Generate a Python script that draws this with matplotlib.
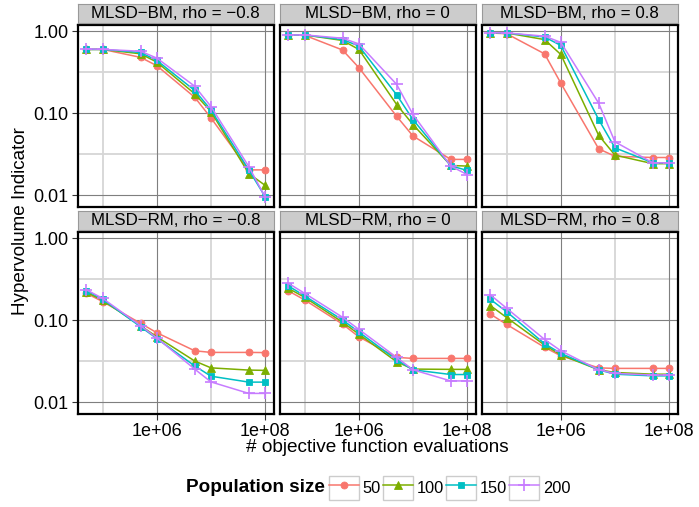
import numpy as np
import matplotlib
matplotlib.use('Agg')
import matplotlib.pyplot as plt
from matplotlib.legend_handler import HandlerLine2D
from matplotlib.patches import Rectangle
from matplotlib.lines import Line2D

plt.rcParams['font.family'] = ['Liberation Sans', 'DejaVu Sans']

evals = [5e4, 1e5, 5e5, 1e6, 5e6, 1e7, 5e7, 1e8]
pop_sizes = ['50', '100', '150', '200']

# rows: pop size 50, 100, 150, 200
bm_neg = [[0.60, 0.60, 0.48, 0.38, 0.157, 0.088, 0.0205, 0.0205],
          [0.60, 0.60, 0.53, 0.42, 0.173, 0.105, 0.0185, 0.0133],
          [0.60, 0.60, 0.55, 0.44, 0.190, 0.110, 0.0205, 0.0097],
          [0.61, 0.60, 0.57, 0.47, 0.214, 0.121, 0.0225, 0.0096]]
bm_zero = [[0.90, 0.89, 0.59, 0.36, 0.092, 0.053, 0.0275, 0.0275],
           [0.90, 0.90, 0.77, 0.60, 0.128, 0.073, 0.0232, 0.0228],
           [0.90, 0.90, 0.79, 0.66, 0.168, 0.084, 0.0230, 0.0202],
           [0.90, 0.90, 0.82, 0.70, 0.225, 0.097, 0.0228, 0.0180]]
bm_pos = [[0.95, 0.93, 0.53, 0.233, 0.037, 0.030, 0.029, 0.029],
          [0.96, 0.95, 0.79, 0.52, 0.054, 0.031, 0.0244, 0.0244],
          [0.96, 0.95, 0.85, 0.67, 0.084, 0.038, 0.025, 0.025],
          [0.96, 0.95, 0.87, 0.73, 0.133, 0.045, 0.025, 0.025]]
rm_neg = [[0.213, 0.169, 0.092, 0.0706, 0.0426, 0.0407, 0.0407, 0.0405],
          [0.220, 0.175, 0.086, 0.063, 0.032, 0.0264, 0.0248, 0.0246],
          [0.230, 0.180, 0.0835, 0.060, 0.0279, 0.0209, 0.0177, 0.0177],
          [0.235, 0.185, 0.086, 0.061, 0.0255, 0.0178, 0.0129, 0.0129]]
rm_zero = [[0.228, 0.177, 0.090, 0.063, 0.0354, 0.0344, 0.0344, 0.0344],
           [0.245, 0.190, 0.095, 0.068, 0.0313, 0.0255, 0.0253, 0.0253],
           [0.262, 0.198, 0.101, 0.072, 0.033, 0.025, 0.0219, 0.0219],
           [0.282, 0.213, 0.109, 0.0776, 0.0354, 0.025, 0.0183, 0.0183]]
rm_pos = [[0.119, 0.089, 0.047, 0.037, 0.0264, 0.026, 0.026, 0.026],
          [0.151, 0.108, 0.050, 0.038, 0.025, 0.0232, 0.0221, 0.0221],
          [0.180, 0.127, 0.052, 0.0396, 0.025, 0.0221, 0.0211, 0.0211],
          [0.204, 0.140, 0.0586, 0.0426, 0.025, 0.0226, 0.0216, 0.0216]]

panels = [bm_neg, bm_zero, bm_pos, rm_neg, rm_zero, rm_pos]
titles = ['MLSD\u2212BM, rho = \u22120.8', 'MLSD\u2212BM, rho = 0', 'MLSD\u2212BM, rho = 0.8',
          'MLSD\u2212RM, rho = \u22120.8', 'MLSD\u2212RM, rho = 0', 'MLSD\u2212RM, rho = 0.8']

colors = ['#F8766D', '#7CAE00', '#00BFC4', '#C77CFF']
markers = ['o', '^', 's', '+']
msizes = [5, 6, 5, 9]

W, H = 699, 507
fig = plt.figure(figsize=(W / 100, H / 100), dpi=100)

def fx(px):
    return px / W

def fy(py):
    return 1 - py / H

col_x = [77.5, 279.5, 481.5]
pw = 196.5
row_y = [25, 232]
ph = 182
strip_h = 19

for i, data in enumerate(panels):
    r, c = divmod(i, 3)
    x0, y0 = col_x[c], row_y[r]
    ax = fig.add_axes([fx(x0), fy(y0 + ph), fx(pw), ph / H])
    ax.set_xscale('log')
    ax.set_yscale('log')
    ax.set_xlim(10 ** 4.534, 10 ** 8.165)
    ax.set_ylim(10 ** -2.14, 10 ** 0.075)
    for v in [1e5, 1e7]:
        ax.axvline(v, color='#d6d6d6', lw=1.3, zorder=0)
    for v in [10 ** -1.5, 10 ** -0.5]:
        ax.axhline(v, color='#d6d6d6', lw=1.3, zorder=0)
    for v in [1e6, 1e8]:
        ax.axvline(v, color='#7f7f7f', lw=0.8, zorder=0)
    for v in [0.01, 0.1, 1.0]:
        ax.axhline(v, color='#7f7f7f', lw=0.8, zorder=0)
    for k in range(4):
        ax.plot(evals, data[k], color=colors[k], marker=markers[k], ms=msizes[k],
                mew=1.2 if markers[k] == '+' else 0.6, lw=1.1, zorder=3 + k)
    ax.xaxis.set_minor_locator(matplotlib.ticker.NullLocator())
    ax.yaxis.set_minor_locator(matplotlib.ticker.NullLocator())
    ax.set_xticks([1e6, 1e8])
    ax.set_yticks([0.01, 0.1, 1.0])
    ax.set_xticklabels(['1e+06', '1e+08'] if r == 1 else [])
    ax.set_yticklabels(['0.01', '0.10', '1.00'] if c == 0 else [])
    ax.tick_params(length=4 if r == 1 else 0, width=0.8, color='#333333', pad=2.5,
                   labelsize=13, axis='x')
    ax.tick_params(length=4 if c == 0 else 0, width=0.8, color='#333333', pad=2.5,
                   labelsize=13, axis='y')
    for s in ax.spines.values():
        s.set_linewidth(1.6)
        s.set_color('black')

    sax = fig.add_axes([fx(x0), fy(y0 - 2.5), fx(pw), strip_h / H])
    sax.set_facecolor('#cccccc')
    sax.set_xticks([])
    sax.set_yticks([])
    for s in sax.spines.values():
        s.set_color('#999999')
        s.set_linewidth(0.8)
    sax.text(0.5, 0.45, titles[i], ha='center', va='center', fontsize=12.2,
             transform=sax.transAxes)

fig.text(fx(21), fy(221), 'Hypervolume Indicator', rotation=90, ha='center',
         va='center', fontsize=13.6)
fig.text(fx(377.5), fy(447), '# objective function evaluations', ha='center',
         va='center', fontsize=13.7)


class BoxedHandler(HandlerLine2D):
    def create_artists(self, legend, orig_handle, xdescent, ydescent, width,
                       height, fontsize, trans):
        arts = super().create_artists(legend, orig_handle, xdescent, ydescent,
                                      width, height, fontsize, trans)
        box = Rectangle((-xdescent, -ydescent), width, height, fc='white',
                        ec='#cccccc', lw=1, transform=trans)
        return [box] + list(arts)


handles = [Line2D([], [], color=colors[k], marker=markers[k], ms=msizes[k],
                  mew=1.2 if markers[k] == '+' else 0.6, lw=1.1)
           for k in range(4)]
leg = fig.legend(handles, pop_sizes, loc='center left',
                 bbox_to_anchor=(fx(329), fy(488)), ncol=4, frameon=False,
                 fontsize=11.8, handlelength=1.83, handleheight=1.83,
                 handletextpad=0.2, columnspacing=0.16, borderpad=0,
                 borderaxespad=0, markerscale=1,
                 handler_map={Line2D: BoxedHandler(numpoints=1)})
fig.text(fx(325), fy(488), 'Population size', ha='right', va='center',
         fontsize=13.6, fontweight='bold')

fig.savefig('out.png', dpi=100)
